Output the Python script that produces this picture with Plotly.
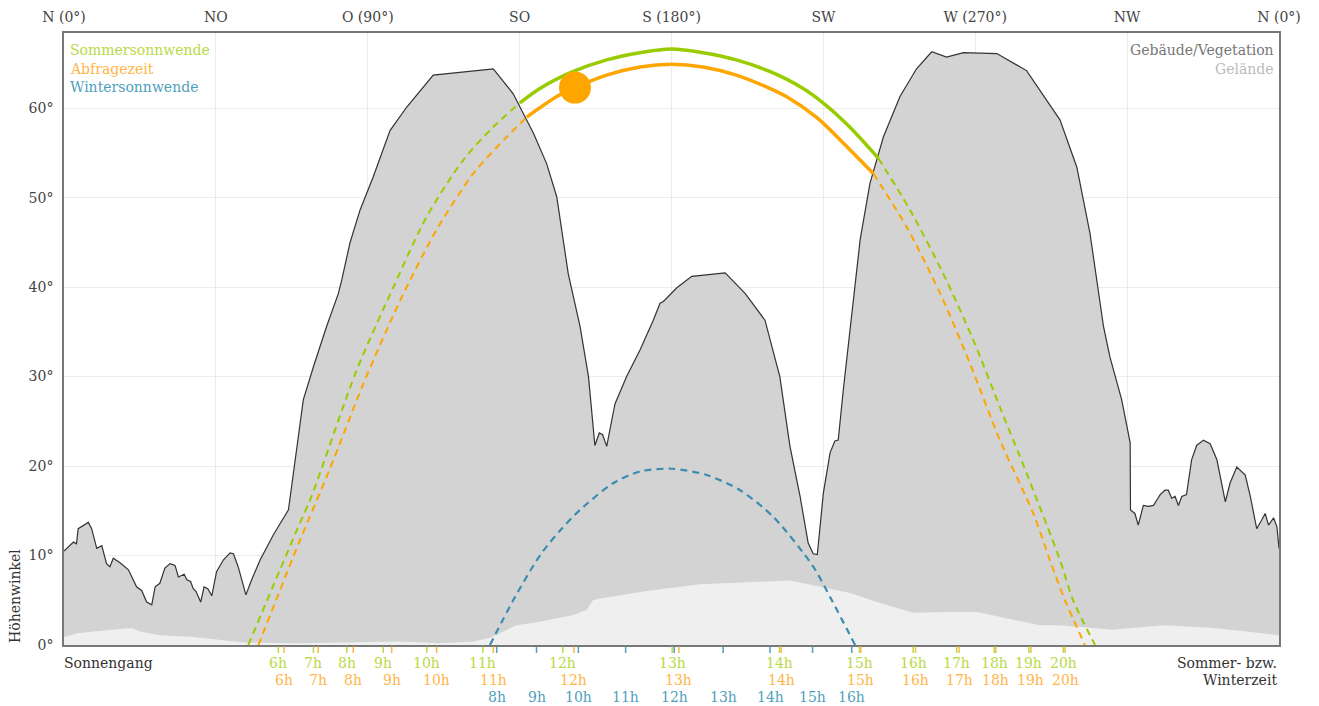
import plotly.graph_objects as go

FONT = "DejaVu Serif"

# ---------------- data (azimuth in degrees, elevation in degrees) ----------------
HORIZON_AZ = [0.0, 2.8, 3.7, 4.2, 7.2, 8.2, 9.7, 11.2, 12.6, 13.6, 14.6, 16.6, 19.1, 21.5, 23.0,
              24.5, 26.0, 27.0, 28.4, 29.9, 31.4, 32.9, 33.9, 35.6, 36.4, 37.5, 38.3, 39.1, 40.5,
              41.5, 42.6, 43.8, 45.2, 47.2, 49.2, 50.2, 51.6, 53.9, 55.6, 58.1, 62.0, 66.5, 67.9,
              69.9, 70.9, 73.9, 77.8, 81.3, 82.3, 84.7, 87.7, 91.6, 96.6, 101.5, 109.4, 127.2,
              133.1, 139.1, 143.0, 146.0, 147.9, 149.4, 152.9, 155.4, 157.3, 158.6, 159.6, 160.8,
              162.7, 163.3, 166.7, 170.7, 174.6, 176.6, 177.6, 181.5, 186.0, 195.9, 201.8, 207.7,
              212.1, 215.1, 218.1, 220.5, 222.0, 223.2, 225.0, 227.0, 228.4, 229.4, 230.9, 233.9,
              235.9, 238.8, 242.8, 247.7, 252.6, 257.1, 261.5, 266.5, 276.4, 285.2, 295.1, 300.1,
              304.0, 308.0, 309.9, 313.4, 315.9, 316.0, 317.3, 318.3, 319.8, 321.3, 322.8, 323.8,
              324.8, 326.2, 327.2, 328.2, 329.2, 330.2, 331.2, 332.6, 334.1, 335.6, 337.6, 339.6,
              341.6, 344.1, 345.5, 347.5, 350.0, 351.5, 353.4, 354.9, 355.9, 356.9, 358.4, 359.4,
              360.0]
HORIZON_EL = [10.5, 11.5, 11.3, 13.0, 13.7, 13.0, 10.8, 11.1, 9.1, 8.75, 9.7, 9.2, 8.4, 6.5, 6.1,
              4.8, 4.5, 6.5, 6.9, 8.6, 9.1, 8.9, 7.6, 7.9, 7.3, 7.1, 6.3, 6.0, 4.8,
              6.5, 6.3, 5.5, 8.2, 9.5, 10.3, 10.2, 8.75, 5.6, 7.3, 9.5, 12.3, 15.1, 19.0,
              24.4, 27.4, 31.1, 35.6, 39.3, 40.8, 44.9, 48.6, 52.3, 57.5, 60.1, 63.7, 64.4,
              61.6, 57.2, 53.8, 50.1, 45.3, 41.5, 35.6, 30.0, 22.3, 23.7, 23.5, 22.2,
              25.9, 27.0, 30.0, 33.0, 36.3, 38.2, 38.4, 39.9, 41.2, 41.6, 39.3, 36.3,
              30.0, 22.2, 16.6, 11.4, 10.2, 10.1, 17.0, 21.5, 22.8, 22.9, 28.5, 38.5,
              45.3, 51.6, 56.8, 61.3, 64.4, 66.3, 65.7, 66.2, 66.1, 64.2, 58.7, 53.4,
              46.0, 35.6, 32.2, 27.4, 22.6, 15.1, 14.7, 13.4, 15.6, 15.5, 15.6, 16.2,
              16.8, 17.3, 17.3, 16.4, 16.6, 15.6, 16.6, 16.8, 20.7, 22.3, 22.9, 22.5,
              20.7, 16.0, 18.1, 19.9, 19.0, 16.6, 13.0, 14.0, 14.7, 13.4, 14.2, 13.2,
              10.8]

TERRAIN_AZ = [0.0, 4.0, 8.7, 16.6, 20.0, 22.5, 28.4, 38.2, 46.2, 54.1, 70.0, 99.6, 111.4, 121.2,
              126.2, 131.2, 134.1, 141.0, 150.9, 154.9, 156.7, 158.8, 173.6, 188.4, 203.3, 215.1,
              232.9, 241.8, 251.6, 261.6, 270.5, 281.2, 289.2, 295.1, 310.8, 325.6, 340.4, 350.5,
              360.0]
TERRAIN_EL = [0.9, 1.3, 1.5, 1.75, 1.9, 1.5, 1.1, 0.9, 0.55, 0.25, 0.2, 0.4, 0.2, 0.4,
              0.8, 1.7, 2.2, 2.6, 3.35, 3.9, 5.0, 5.2, 6.1, 6.8, 7.0, 7.2,
              5.8, 4.7, 3.6, 3.7, 3.7, 2.8, 2.2, 2.2, 1.7, 2.2, 1.9, 1.5,
              1.1]

# summer solstice path: hidden rise, visible day, hidden set
SUMMER_RISE_AZ = [54.6, 69.4, 72.9, 76.3, 86.7, 97.6, 107.5, 118.3, 127.2, 135.1]
SUMMER_RISE_EL = [0.0, 13.2, 16.2, 19.7, 30.7, 40.0, 47.9, 54.2, 57.9, 60.6]
SUMMER_DAY_AZ = [135.1, 141.0, 150.9, 160.8, 170.7, 180.0, 189.3, 199.2, 209.1, 219.0, 224.9, 232.8, 241.3]
SUMMER_DAY_EL = [60.6, 62.2, 64.1, 65.4, 66.2, 66.6, 66.2, 65.4, 64.1, 62.2, 60.6, 57.9, 54.4]
SUMMER_SET_AZ = [241.3, 250.7, 260.5, 269.4, 277.3, 285.2, 295.1, 299.0, 305.5]
SUMMER_SET_EL = [54.4, 48.6, 41.5, 34.1, 26.6, 19.2, 9.5, 5.0, 0.0]

# query-date path
QUERY_RISE_AZ = [57.6, 69.9, 78.8, 88.7, 99.6, 110.4, 121.3, 131.2, 137.1]
QUERY_RISE_EL = [0.0, 11.7, 19.7, 29.2, 38.5, 46.4, 52.7, 56.8, 59.0]
QUERY_DAY_AZ = [137.1, 146.0, 151.4, 160.8, 170.7, 180.0, 189.3, 199.2, 208.6, 214.0, 222.9, 228.8, 239.8]
QUERY_DAY_EL = [59.0, 61.3, 62.3, 63.7, 64.6, 64.9, 64.6, 63.7, 62.3, 61.3, 59.0, 56.9, 52.7]
QUERY_SET_AZ = [239.8, 249.7, 259.6, 268.4, 277.3, 287.2, 292.1, 296.6, 302.5]
QUERY_SET_EL = [52.7, 46.7, 39.3, 31.5, 22.9, 14.7, 9.5, 5.0, 0.0]

SUN_AZ = [151.4]
SUN_EL = [62.3]

# winter solstice path (entirely hidden)
WINTER_AZ = [126.2, 133.1, 141.0, 147.0, 152.9, 162.8, 170.7, 180.0, 190.4, 200.3, 210.2, 222.0, 227.5, 234.4]
WINTER_EL = [0.0, 5.0, 10.0, 12.8, 15.1, 18.1, 19.4, 19.7, 19.0, 17.3, 14.3, 8.75, 5.0, 0.0]

# hour marks
SUMMER_HOURS = ["6h", "7h", "8h", "9h", "10h", "11h", "12h", "13h", "14h", "15h", "16h", "17h", "18h", "19h", "20h"]
SUMMER_HOUR_AZ = [63.5, 73.9, 83.8, 94.6, 107.5, 124.1, 147.8, 180.2, 212.0, 235.7, 251.6, 264.5, 275.6, 285.9, 296.1]
QUERY_HOURS = ["6h", "7h", "8h", "9h", "10h", "11h", "12h", "13h", "14h", "15h", "16h", "17h", "18h", "19h", "20h"]
QUERY_HOUR_AZ = [65.2, 75.3, 85.7, 97.1, 110.4, 127.2, 151.1, 182.2, 212.5, 236.1, 252.3, 265.2, 276.1, 286.5, 296.6]
WINTER_HOURS = ["8h", "9h", "10h", "11h", "12h", "13h", "14h", "15h", "16h"]
WINTER_HOUR_AZ = [128.2, 140.0, 152.4, 166.4, 180.8, 195.3, 209.2, 221.8, 233.4]

DIR_TICKS = [0, 45, 90, 135, 180, 225, 270, 315, 360]
DIR_LABELS = ["N (0°)", "NO", "O (90°)", "SO", "S (180°)", "SW", "W (270°)", "NW", "N (0°)"]
EL_TICKS = [0, 10, 20, 30, 40, 50, 60]
EL_LABELS = ["0°", "10°", "20°", "30°", "40°", "50°", "60°"]

# ---------------- styles ----------------
GREEN = "#99cc00"
ORANGE = "#ffa500"
BLUE = "#3a8db0"
GREEN_T = "#b9da45"
ORANGE_T = "#ffb547"
BLUE_T = "#4f9fbd"
PLOT_H = 612.0

fig = go.Figure()

fig.add_trace(go.Scatter(x=HORIZON_AZ, y=HORIZON_EL, mode="lines", fill="tozeroy",
                         fillcolor="#d3d3d3", line=dict(color="#333333", width=1.2)))
fig.add_trace(go.Scatter(x=TERRAIN_AZ, y=TERRAIN_EL, mode="lines", fill="tozeroy",
                         fillcolor="#efefef", line=dict(color="#efefef", width=0)))

def path(x, y, color, dashed, width):
    fig.add_trace(go.Scatter(x=x, y=y, mode="lines",
                             line=dict(color=color, width=width, shape="spline", smoothing=0.8,
                                       dash="7px,5px" if dashed else "solid")))

path(SUMMER_RISE_AZ, SUMMER_RISE_EL, GREEN, True, 2)
path(SUMMER_SET_AZ, SUMMER_SET_EL, GREEN, True, 2)
path(QUERY_RISE_AZ, QUERY_RISE_EL, ORANGE, True, 2)
path(QUERY_SET_AZ, QUERY_SET_EL, ORANGE, True, 2)
path(WINTER_AZ, WINTER_EL, BLUE, True, 2.2)
path(SUMMER_DAY_AZ, SUMMER_DAY_EL, GREEN, False, 3.5)
path(QUERY_DAY_AZ, QUERY_DAY_EL, ORANGE, False, 3.5)

fig.add_trace(go.Scatter(x=SUN_AZ, y=SUN_EL, mode="markers",
                         marker=dict(size=32, color=ORANGE, line=dict(width=0))))

shapes = []
ann = []

# hour tick marks and labels below the axis
for az_list, labels, col, shift in [
    (SUMMER_HOUR_AZ, SUMMER_HOURS, GREEN_T, -18),
    (QUERY_HOUR_AZ, QUERY_HOURS, ORANGE_T, -35),
    (WINTER_HOUR_AZ, WINTER_HOURS, BLUE_T, -52),
]:
    for a, lab in zip(az_list, labels):
        shapes.append(dict(type="line", xref="x", yref="paper", x0=a, x1=a,
                           y0=-1.5 / PLOT_H, y1=-8 / PLOT_H, line=dict(color=col, width=1.5)))
        ann.append(dict(text=lab, xref="x", yref="paper", x=a, y=0, yshift=shift,
                        xanchor="center", yanchor="middle", showarrow=False,
                        font=dict(family=FONT, size=14, color=col)))

def note(text, x, y, xs, ys, xanchor, color, size=14, angle=0, yanchor="middle"):
    ann.append(dict(text=text, xref="paper", yref="paper", x=x, y=y, xshift=xs, yshift=ys,
                    xanchor=xanchor, yanchor=yanchor, showarrow=False, textangle=angle,
                    font=dict(family=FONT, size=size, color=color)))

note("Sommersonnwende", 0, 1, 4, -17, "left", GREEN_T)
note("Abfragezeit", 0, 1, 4, -36, "left", ORANGE_T)
note("Wintersonnwende", 0, 1, 4, -54, "left", BLUE_T)
note("Gebäude/Vegetation", 1, 1, -3, -17, "right", "#777777")
note("Gelände", 1, 1, -3, -36, "right", "#bbbbbb")
note("Sonnengang", 0, 0, -2, -18, "left", "#333333")
note("Sommer- bzw.", 1, 0, 0, -18, "right", "#333333")
note("Winterzeit", 1, 0, 0, -35, "right", "#333333")
note("Höhenwinkel", 0, 0, -49, 0, "center", "#333333", angle=-90, yanchor="bottom")

fig.update_layout(
    width=1311, height=698,
    margin=dict(l=56, r=40, t=25, b=61),
    paper_bgcolor="white", plot_bgcolor="white",
    showlegend=False,
    font=dict(family=FONT, size=14, color="#444444"),
    annotations=ann,
    shapes=shapes,
    xaxis=dict(range=[0, 360], side="top", tickvals=DIR_TICKS, ticktext=DIR_LABELS,
               showgrid=True, gridcolor="#ebebeb", gridwidth=1, zeroline=False,
               showline=True, mirror=True, linecolor="#777777", linewidth=1.5,
               ticks="", ticklabelstandoff=4, automargin=False,
               tickfont=dict(family=FONT, size=14, color="#444444")),
    yaxis=dict(range=[0, 68.4], tickvals=EL_TICKS, ticktext=EL_LABELS,
               showgrid=True, gridcolor="#ebebeb", gridwidth=1, zeroline=False,
               showline=True, mirror=True, linecolor="#777777", linewidth=1.5,
               ticks="", ticklabelstandoff=6, automargin=False,
               tickfont=dict(family=FONT, size=14, color="#444444")),
)

fig.write_html("out.html")
